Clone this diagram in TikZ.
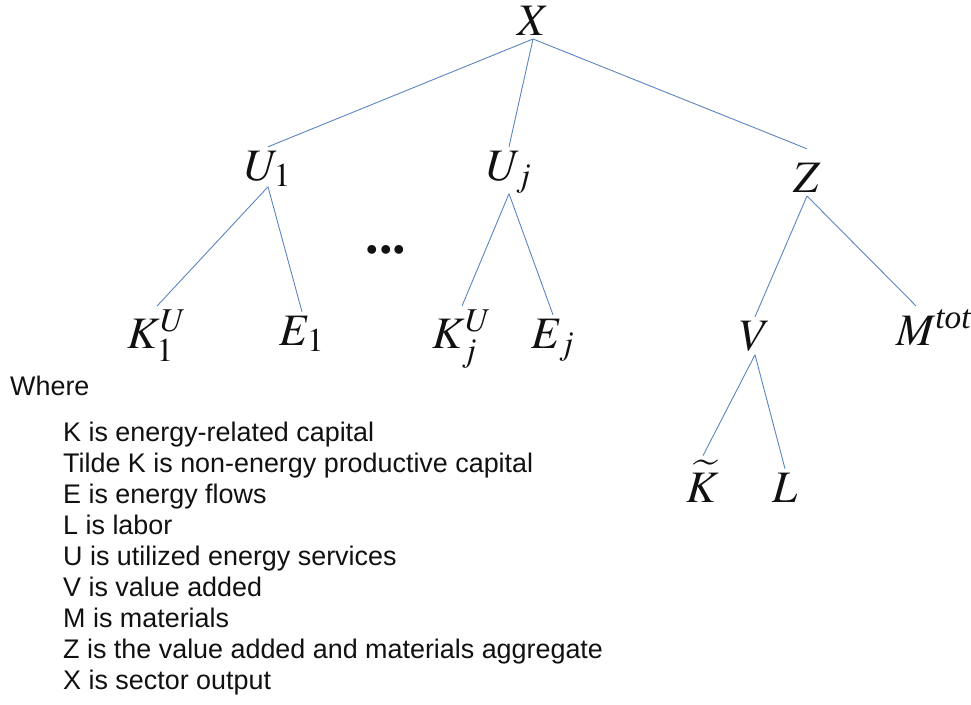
\documentclass[tikz,border=0pt]{standalone}
\usepackage{mathptmx}
\usepackage{mathtools}
\usepackage[no-math]{fontspec}
\setmainfont{Liberation Serif}
\newfontfamily\legendfont{Liberation Sans}
\usetikzlibrary{positioning}
\definecolor{tblue}{HTML}{5B85C0}
\definecolor{tink}{HTML}{111111}

\begin{document}
\begin{tikzpicture}[
  x=1pt,y=-1pt,
  var/.style={inner sep=0pt,outer sep=4pt,anchor=base,text=tink,
    font=\fontsize{45}{48}\selectfont},
  branch/.style={draw=tblue,line width=.9pt},
  legend/.style={inner sep=0pt,anchor=base west,text=tink,
    font=\legendfont\fontsize{26.9}{31}\selectfont}
]
\useasboundingbox (0,0) rectangle (971,704);

% Top level: sector output and its three inputs.
\node[var] (X) at (533,35) {$X$};
\node[var] (U1) at (268,180) {$U_1$};
\node[var] (Uj) at (509,180) {$U_j$};
\node[var] (Z) at (807,192) {$Z$};
\draw[branch] (X.south) -- (U1.north);
\draw[branch] (X.south) -- (Uj.north);
\draw[branch] (X.south) -- ([yshift=10pt]Z.north);

% Energy service nests.
\node[var] (K1) at (157,348) {$K_1^U$};
\node[var] (E1) at (302,345) {$E_1$};
\node[var,font=\bfseries\fontsize{54}{54}\selectfont] (dots) at (386,253) {...};
\node[var] (Kj) at (462,348) {$K_j^U$};
\node[var] (Ej) at (553,348) {$E_j$};
\draw[branch] ([yshift=4pt]U1.south) -- (K1.north);
\draw[branch] ([yshift=4pt]U1.south) -- (E1.north);
\draw[branch] ([yshift=4pt]Uj.south) -- (Kj.north);
\draw[branch] ([yshift=4pt]Uj.south) -- (Ej.north);

% Value added and materials.
\node[var] (V) at (755,350) {$V$};
\node[var] (M) at (916,345) {$M^{\mathrlap{\textit{tot}}}$};
\draw[branch] (Z.south) -- (V.north);
\draw[branch] (Z.south) -- (M.north);
\node[var] (Kt) at (703,502) {$\widetilde{K}$};
\node[var] (L) at (785,502) {$L$};
\draw[branch] (V.south) -- (Kt.north);
\draw[branch] (V.south) -- (L.north);

% Legend, one line per definition.
\node[legend] (where) at (10,395) {Where};
\foreach \txt [count=\i] in {K is energy-related capital,
    Tilde K is non-energy productive capital,
    E is energy flows,
    L is labor,
    U is utilized energy services,
    V is value added,
    M is materials,
    Z is the value added and materials aggregate,
    X is sector output}
  \node[legend] (def\i) at (63,410+31*\i) {\txt};
\end{tikzpicture}
\end{document}
